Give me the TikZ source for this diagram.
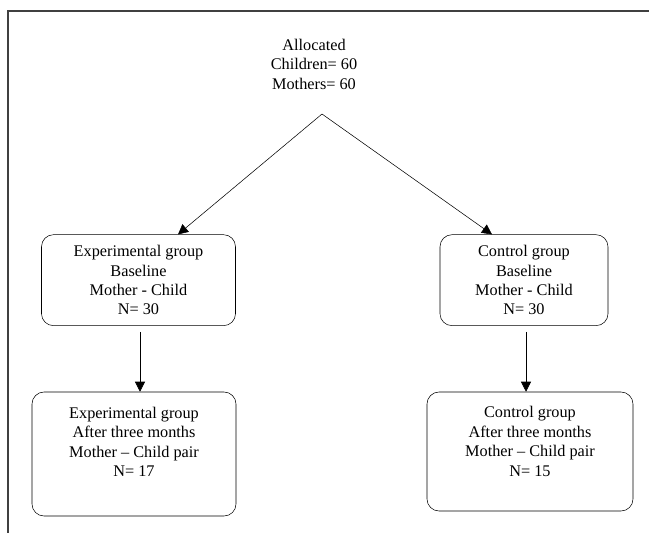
\documentclass[tikz,border=0pt]{standalone}
\usepackage{fontspec}
\setmainfont{Liberation Serif}
\usetikzlibrary{positioning,calc,arrows.meta}

\begin{document}
\begin{tikzpicture}[x=0.75pt,y=-0.75pt]
\tikzstyle{every node}+=[font=\fontsize{12.2}{14.6}\selectfont]
\tikzstyle{grp}=[draw,rounded corners=9pt,align=center,inner sep=0pt]
\tikzstyle{arr}=[-{Triangle[length=7.5pt,width=7.5pt]}]
\useasboundingbox (0,0) rectangle (649,533);
% frame
\draw [line width=1.4pt,black!75] (649,11) -- (8,11) -- (8,533);
% top
\node [align=center] (alloc) at (314,64) {Allocated\\ Children= 60\\ Mothers= 60};
\coordinate (apex) at (322,114);
% baseline boxes
\node [grp,minimum width=145.5pt,minimum height=68.25pt,yshift=-2pt] (ea) at (138.5,277.5)
  {Experimental group\\ Baseline\\ Mother - Child\\ N= 30};
\node [grp,minimum width=126pt,minimum height=68.25pt,yshift=-2pt] (ca) at (524,277.5)
  {Control group\\ Baseline\\ Mother - Child\\ N= 30};
% after three months
\node [grp,minimum width=153pt,minimum height=93pt,text depth=18pt] (eb) at (134,454)
  {Experimental group\\ After three months\\ Mother -- Child pair\\ N= 17};
\node [grp,minimum width=154.5pt,minimum height=89.25pt,text depth=15pt] (cb) at (530,451.5)
  {Control group\\ After three months\\ Mother -- Child pair\\ N= 15};
% connectors
\coordinate (ea-s) at ($(ea.south)+(1.5,6)$);
\coordinate (ca-s) at ($(ca.south)+(2,6)$);
\draw [arr] (apex) -- ($(ea.north)+(39.5,0)$);
\draw [arr] (apex) -- ($(ca.north)+(-32,0)$);
\draw [arr] (ea-s) -- (ea-s |- eb.north);
\draw [arr] (ca-s) -- (ca-s |- cb.north);
\end{tikzpicture}
\end{document}
